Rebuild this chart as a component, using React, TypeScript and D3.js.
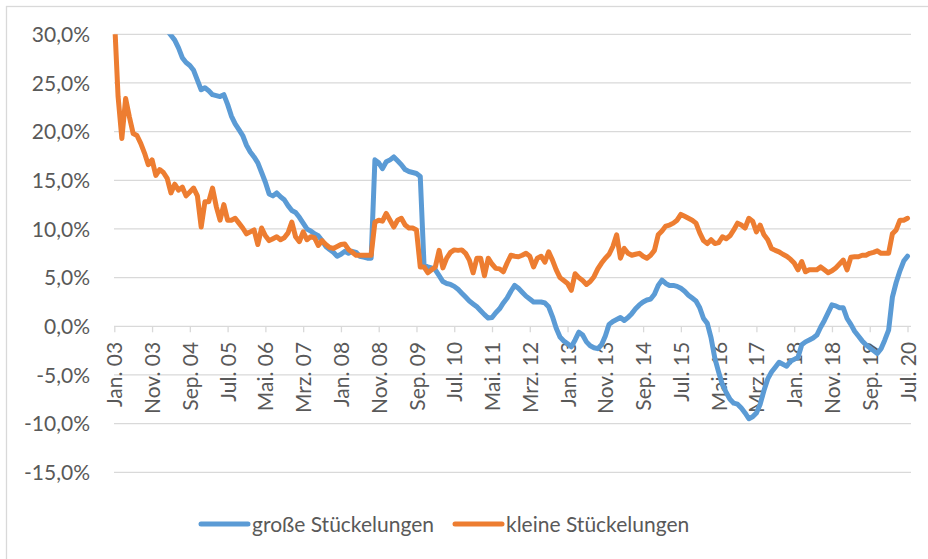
import React, { useRef, useEffect } from 'react';
import * as d3 from 'd3';

// monthly values, Jan. 03 .. Jul. 20 (one row per year)
const grosse = [
  39.5, 39.0, 38.2, 37.8, 36.9, 36.4, 35.6, 35.0, 34.3, 33.8, 33.0, 32.4,
  31.6, 31.0, 30.4, 29.9, 29.4, 28.6, 27.6, 27.1, 26.8, 26.3, 25.3, 24.3,
  24.5, 24.2, 23.8, 23.7, 23.6, 23.8, 22.8, 21.6, 20.8, 20.2, 19.6, 18.6,
  17.9, 17.4, 16.8, 15.8, 14.8, 13.6, 13.4, 13.7, 13.3, 13.0, 12.4, 11.9,
  11.7, 11.2, 10.6, 10.0, 9.8, 9.5, 9.3, 8.8, 8.2, 7.9, 7.6, 7.2,
  7.4, 7.7, 7.5, 7.7, 7.6, 7.2, 7.1, 7.0, 7.0, 17.1, 16.8, 16.2,
  16.9, 17.1, 17.4, 17.0, 16.6, 16.1, 15.9, 15.8, 15.7, 15.4, 6.3, 6.1,
  6.0, 5.8, 5.2, 4.6, 4.4, 4.3, 4.1, 3.8, 3.4, 3.0, 2.6, 2.3,
  2.0, 1.6, 1.2, 0.85, 0.9, 1.4, 1.8, 2.4, 2.9, 3.6, 4.2, 3.9,
  3.5, 3.1, 2.8, 2.5, 2.5, 2.5, 2.4, 2.0, 1.0, -0.2, -1.1, -1.5,
  -1.8, -2.1, -1.4, -0.6, -0.9, -1.6, -2.0, -2.2, -2.3, -1.9, -1.0, 0.2,
  0.5, 0.7, 0.9, 0.6, 0.9, 1.3, 1.8, 2.2, 2.5, 2.7, 2.8, 3.3,
  4.2, 4.75, 4.4, 4.2, 4.2, 4.1, 3.9, 3.6, 3.2, 2.9, 2.6, 1.9,
  0.8, 0.3, -1.2, -3.3, -4.7, -6.0, -6.8, -7.5, -7.9, -8.0, -8.4, -8.9,
  -9.5, -9.3, -8.9, -8.0, -6.6, -5.4, -4.7, -4.2, -3.7, -3.9, -4.1, -3.6,
  -3.4, -3.2, -1.9, -1.6, -1.4, -1.2, -0.9, -0.1, 0.6, 1.4, 2.2, 2.1,
  1.9, 1.9, 0.8, 0.2, -0.5, -1.0, -1.5, -1.9, -2.2, -2.5, -2.8, -2.3,
  -1.4, -0.4, 3.0, 4.5, 5.7, 6.7, 7.2,
];

const kleine = [
  32.0, 23.6, 19.3, 23.4, 21.5, 19.8, 19.6, 18.8, 17.8, 16.6, 17.1, 15.5,
  16.1, 15.8, 15.2, 13.7, 14.6, 14.0, 14.3, 13.4, 13.8, 14.2, 13.4, 10.2,
  12.8, 12.8, 14.2, 12.3, 10.9, 12.5, 10.9, 10.9, 11.1, 10.6, 10.1, 9.5,
  9.7, 9.9, 8.4, 10.1, 9.3, 8.8, 9.0, 9.2, 8.9, 9.1, 9.6, 10.7,
  9.2, 8.7, 9.7, 8.9, 9.2, 9.1, 8.3, 8.8, 8.4, 8.1, 8.0, 8.2,
  8.4, 8.45, 7.9, 7.6, 7.3, 7.3, 7.3, 7.3, 7.3, 10.7, 10.9, 10.8,
  11.6, 10.9, 10.2, 10.9, 11.1, 10.4, 10.1, 10.1, 9.9, 6.1, 6.1, 5.5,
  5.8, 6.1, 7.8, 6.0, 7.0, 7.6, 7.85, 7.8, 7.85, 7.5, 6.8, 5.5,
  7.0, 7.0, 5.2, 7.0, 6.4, 5.95, 5.9, 5.6, 6.5, 7.3, 7.2, 7.15,
  7.3, 7.5, 7.2, 6.1, 7.0, 7.2, 6.6, 7.65, 6.8, 5.8, 5.0, 4.7,
  4.4, 3.7, 5.4, 5.0, 4.7, 4.3, 4.6, 5.1, 5.9, 6.5, 7.0, 7.4,
  8.2, 9.4, 7.0, 8.0, 7.5, 7.3, 7.4, 7.5, 7.2, 7.0, 7.3, 7.8,
  9.4, 9.8, 10.3, 10.4, 10.6, 10.9, 11.5, 11.3, 11.1, 10.9, 10.6, 9.6,
  8.8, 8.5, 8.9, 8.5, 8.6, 9.2, 9.0, 9.3, 9.9, 10.6, 10.4, 10.1,
  11.1, 10.8, 9.7, 10.4, 9.4, 8.9, 8.0, 7.8, 7.65, 7.4, 7.2, 6.9,
  6.5, 5.8, 6.65, 5.6, 5.8, 5.8, 5.8, 6.1, 5.8, 5.5, 5.7, 6.0,
  6.4, 6.8, 5.8, 7.1, 7.15, 7.15, 7.3, 7.3, 7.5, 7.6, 7.75, 7.5,
  7.5, 7.5, 9.5, 9.9, 10.9, 10.9, 11.1,
];

// one label every 10 months
const tickLabels = [
  'Jan. 03', 'Nov. 03', 'Sep. 04', 'Jul. 05', 'Mai. 06', 'Mrz. 07', 'Jan. 08', 'Nov. 08',
  'Sep. 09', 'Jul. 10', 'Mai. 11', 'Mrz. 12', 'Jan. 13', 'Nov. 13', 'Sep. 14', 'Jul. 15',
  'Mai. 16', 'Mrz. 17', 'Jan. 18', 'Nov. 18', 'Sep. 19', 'Jul. 20',
];
const yTicks = [30, 25, 20, 15, 10, 5, 0, -5, -10, -15];

const seriesNames = ['große Stückelungen', 'kleine Stückelungen'];
const colors = ['#5B9BD5', '#ED7D31'];

const FONT = "Lato, sans-serif";
const FONT_SIZE = 21;
const TEXT = '#595959';
const GRID = '#d9d9d9';

const App = () => {
  const svgRef = useRef(null);

  useEffect(() => {
    const svg = d3.select(svgRef.current);
    svg.selectAll('*').remove();

    const width = 928;
    const height = 559;
    const plotLeft = 114;
    const plotRight = 911;

    const x = d3.scaleLinear().domain([0, grosse.length - 1]).range([114.3, 907.5]);
    const y = d3.scaleLinear().domain([-15, 30]).range([472.3, 34.3]);

    svg.attr('width', width).attr('height', height);

    // chart area border
    svg.append('rect')
      .attr('x', 6.5).attr('y', 6.5)
      .attr('width', 1000).attr('height', 1000)
      .attr('fill', 'white')
      .attr('stroke', GRID)
      .attr('stroke-width', 1.3);

    // gridlines
    svg.append('g')
      .selectAll('line')
      .data(yTicks)
      .join('line')
      .attr('x1', plotLeft).attr('x2', plotRight)
      .attr('y1', d => y(d)).attr('y2', d => y(d))
      .attr('stroke', GRID)
      .attr('stroke-width', 1.3);

    // y labels
    svg.append('g')
      .selectAll('text')
      .data(yTicks)
      .join('text')
      .attr('x', 90)
      .attr('y', d => y(d))
      .attr('dy', '0.36em')
      .attr('text-anchor', 'end')
      .attr('font-family', FONT)
      .attr('font-size', FONT_SIZE)
      .attr('fill', TEXT)
      .text(d => d3.format('.1f')(d).replace('.', ',').replace('−', '-') + '%');

    // x axis at 0%
    const xAxis = d3.axisBottom(x)
      .tickValues(d3.range(0, grosse.length, 10))
      .tickSize(6)
      .tickSizeOuter(0)
      .tickFormat((d) => tickLabels[d / 10]);

    const gx = svg.append('g')
      .attr('transform', `translate(0, ${y(0)})`)
      .call(xAxis);
    gx.select('.domain').remove();
    gx.selectAll('line').attr('stroke', GRID).attr('stroke-width', 1.3);
    gx.selectAll('text')
      .attr('transform', 'rotate(-90)')
      .attr('x', -15.5)
      .attr('y', 0)
      .attr('dy', '0.36em')
      .attr('text-anchor', 'end')
      .attr('font-family', FONT)
      .attr('font-size', FONT_SIZE)
      .attr('fill', TEXT);

    // clip to plot area
    svg.append('clipPath')
      .attr('id', 'plot-clip')
      .append('rect')
      .attr('x', 100).attr('y', y(30))
      .attr('width', 830).attr('height', y(-15) - y(30));

    const line = d3.line()
      .x((d, i) => x(i))
      .y(d => y(d));

    [grosse, kleine].forEach((s, k) => {
      svg.append('path')
        .datum(s)
        .attr('clip-path', 'url(#plot-clip)')
        .attr('fill', 'none')
        .attr('stroke', colors[k])
        .attr('stroke-width', 5)
        .attr('stroke-linejoin', 'round')
        .attr('stroke-linecap', 'round')
        .attr('d', line);
    });

    // legend
    const legendX = [201, 455];
    const legend = svg.append('g');
    seriesNames.forEach((name, k) => {
      legend.append('line')
        .attr('x1', legendX[k]).attr('x2', legendX[k] + 47)
        .attr('y1', 524).attr('y2', 524)
        .attr('stroke', colors[k])
        .attr('stroke-width', 5)
        .attr('stroke-linecap', 'round');
      legend.append('text')
        .attr('x', legendX[k] + 51)
        .attr('y', 524)
        .attr('dy', '0.36em')
        .attr('font-family', FONT)
        .attr('font-size', FONT_SIZE)
        .attr('fill', TEXT)
        .text(name);
    });
  }, []);

  return (
    <svg ref={svgRef} style={{ position: 'absolute', left: 0, top: 0 }}></svg>
  );
};

export default App;
